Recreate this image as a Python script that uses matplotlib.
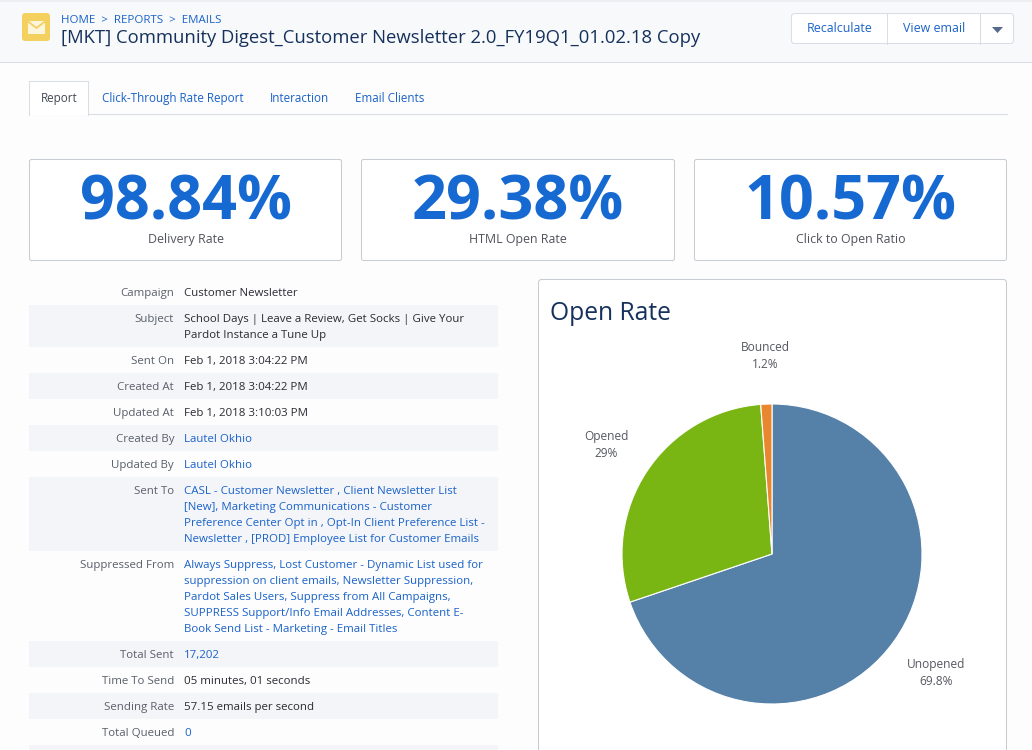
import matplotlib
matplotlib.use("Agg")
import matplotlib.pyplot as plt
from matplotlib.patches import Rectangle, FancyBboxPatch, Polygon

plt.rcParams['font.family'] = ['Open Sans', 'DejaVu Sans']

# ---- data ----
pie_labels = ["Unopened", "Opened", "Bounced"]
pie_values = [69.8, 29.0, 1.2]
pie_texts = ["69.8%", "29%", "1.2%"]
pie_colors = ["#5580a8", "#7ab613", "#e8872e"]

kpi_values = ["98.84%", "29.38%", "10.57%"]
kpi_labels = ["Delivery Rate", "HTML Open Rate", "Click to Open Ratio"]

tabs = ["Report", "Click-Through Rate Report", "Interaction", "Email Clients"]

row_names = ["Campaign", "Subject", "Sent On", "Created At", "Updated At", "Created By",
             "Updated By", "Sent To", "Suppressed From", "Total Sent", "Time To Send",
             "Sending Rate", "Total Queued"]
row_lines = [
    ["Customer Newsletter"],
    ["School Days | Leave a Review, Get Socks | Give Your", "Pardot Instance a Tune Up"],
    ["Feb 1, 2018 3:04:22 PM"],
    ["Feb 1, 2018 3:04:22 PM"],
    ["Feb 1, 2018 3:10:03 PM"],
    ["Lautel Okhio"],
    ["Lautel Okhio"],
    ["CASL - Customer Newsletter , Client Newsletter List",
     "[New], Marketing Communications - Customer",
     "Preference Center Opt in , Opt-In Client Preference List -",
     "Newsletter , [PROD] Employee List for Customer Emails"],
    ["Always Suppress, Lost Customer - Dynamic List used for",
     "suppression on client emails, Newsletter Suppression,",
     "Pardot Sales Users, Suppress from All Campaigns,",
     "SUPPRESS Support/Info Email Addresses, Content E-",
     "Book Send List - Marketing - Email Titles"],
    ["17,202"],
    ["05 minutes, 01 seconds"],
    ["57.15 emails per second"],
    ["0"],
]
row_is_link = [False, False, False, False, False, True, True, True, True, True, False, False, True]

# ---- canvas in pixel coordinates ----
W, H = 1032, 750
fig = plt.figure(figsize=(W / 100, H / 100), dpi=100, facecolor="#fdfdfe")
ui = fig.add_axes([0, 0, 1, 1])
ui.set_xlim(0, W)
ui.set_ylim(H, 0)
ui.axis("off")

DARK = "#16325c"
BLUE = "#1a62c8"
GREY = "#54698d"
LINE = "#d8dde6"
TEXT = "#2b2b33"
CARD = "#c9ccd1"
FS = 8.25


def rect(x, y, w, h, fc="none", ec="none", lw=1, z=1):
    ui.add_patch(Rectangle((x, y), w, h, fc=fc, ec=ec, lw=lw, zorder=z))


def rrect(x, y, w, h, r=3, fc="white", ec=LINE, lw=0.75, z=1):
    ui.add_patch(FancyBboxPatch((x + r, y + r), w - 2 * r, h - 2 * r,
                                boxstyle=f"round,pad={r},rounding_size={r}",
                                fc=fc, ec=ec, lw=lw, zorder=z))


def label(x, y, s, size=FS, color=TEXT, ha="left", **kw):
    ui.text(x, y, s, fontsize=size, color=color, ha=ha, va="baseline", zorder=5, **kw)


# header
rect(0, 0, W, 62, fc="#f8f9fb")
rect(0, 0, W, 2, fc="#eceef1")
ui.plot([0, W], [62, 62], color=LINE, lw=0.75)
rrect(22, 13, 28, 28, r=3, fc="#f4d05f", ec="none", z=2)
rect(28, 21, 17, 12.5, fc="#fdf6de", z=3)
ui.plot([28, 36.5, 45], [21.5, 28, 21.5], color="#f4d05f", lw=1.3, zorder=4)
label(61, 23, "HOME  >  REPORTS  >  EMAILS", size=8.25, color=BLUE)
label(61, 43, "[MKT] Community Digest_Customer Newsletter 2.0_FY19Q1_01.02.18 Copy",
      size=13.32, color=DARK)

# buttons
rrect(791.5, 13.5, 222, 30, r=3, fc="white", ec=LINE)
ui.plot([887, 887], [13.5, 43.5], color=LINE, lw=0.75, zorder=2)
ui.plot([980, 980], [13.5, 43.5], color=LINE, lw=0.75, zorder=2)
label(839.5, 32, "Recalculate", size=8.9, color=BLUE, ha="center")
label(934, 32, "View email", size=8.9, color=BLUE, ha="center")
ui.add_patch(Polygon([[992, 27], [1003, 27], [997.5, 33]], fc=GREY, ec="none", zorder=3))

# tabs
ui.plot([29, 1007], [114, 114], color=LINE, lw=0.75)
ui.add_patch(Rectangle((29, 81), 59, 34, fc="white", ec="none", zorder=2))
ui.plot([29, 29, 88, 88], [114.5, 81, 81, 114.5], color=LINE, lw=0.75, zorder=3)
for tab, x in zip(tabs, [59, 172.5, 299, 389.5]):
    label(x, 102, tab, size=8.35, ha="center", color="#444a55" if tab == "Report" else BLUE)

# KPI cards
for val, lab, x, w in zip(kpi_values, kpi_labels, [29.5, 361.5, 694.5], [312, 313, 312]):
    rrect(x, 159.5, w, 101, r=2, fc="white", ec=CARD)
    label(x + w / 2, 220, val, size=44, color="#1769d2", ha="center", fontweight="bold")
    label(x + w / 2, 243, lab, size=8.95, color="#50535a", ha="center")

# details table
y = 279
for i, (name, lines, link) in enumerate(zip(row_names, row_lines, row_is_link)):
    h = 16 * len(lines) + 10
    if i % 2 == 1:
        rect(29, y, 469, h, fc="#f4f5f9")
    label(174, y + 17, name, color="#5a5f6a", ha="right")
    for j, line in enumerate(lines):
        label(184, y + 17 + 16 * j, line, color=BLUE if link else TEXT)
    y += h
rect(29, y, 469, H - y, fc="#f4f5f9")

# chart card (runs off the bottom edge)
rrect(538.5, 279.5, 468, 490, r=3, fc="white", ec=CARD)
label(550.5, 320, "Open Rate", size=17.7, color=DARK)

# pie
cx, cy, r = 772, 554, 150
pie_ax = fig.add_axes([(cx - r) / W, 1 - (cy + r) / H, 2 * r / W, 2 * r / H])
pie_ax.pie(pie_values, colors=pie_colors, startangle=90, counterclock=False, radius=1,
           wedgeprops=dict(edgecolor="white", linewidth=0.8))
pie_ax.set_xlim(-1, 1)
pie_ax.set_ylim(-1, 1)
pie_ax.patch.set_alpha(0)

for lab, txt, x, y0 in zip(pie_labels, pie_texts, [936, 606.5, 765.5], [668, 440, 351]):
    label(x, y0, lab, size=8.6, color="#55585f", ha="center")
    label(x, y0 + 17, txt, size=8.6, color="#55585f", ha="center")

fig.savefig("out.png", dpi=100, facecolor=fig.get_facecolor())
